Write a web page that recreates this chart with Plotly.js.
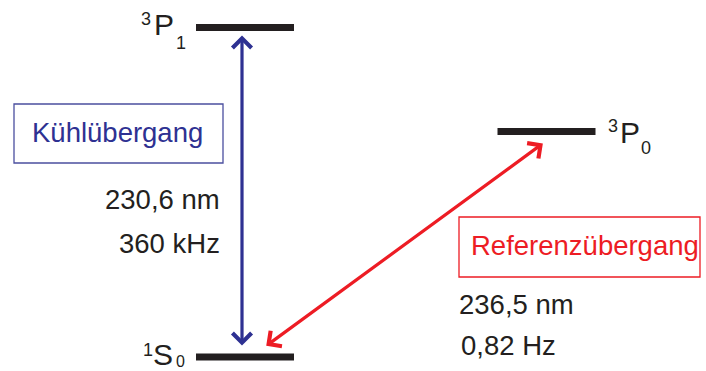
<!DOCTYPE html>
<html>
<head>
<meta charset="utf-8">
<script src="https://cdn.plot.ly/plotly-3.0.1.min.js"></script>
<style>html,body{margin:0;padding:0;background:#fff;}</style>
</head>
<body>
<div id="chart" style="width:706px;height:371px;"></div>
<script>
// ---- data ----
const levelSup = ['1', '3', '3'];
const levelTerm = ['S', 'P', 'P'];
const levelSub = ['0', '1', '0'];
const levelEnergy = [0, 1, 0.684];           // diagram energy (a.u.)
const transitionNames = ['Kühlübergang', 'Referenzübergang'];
const transitionWavelength = ['230,6 nm', '236,5 nm'];
const transitionLinewidth = ['360 kHz', '0,82 Hz'];
const transitionLower = [0, 0];
const transitionUpper = [1, 2];

// ---- layout helpers ----
const W = 706, H = 371;
const px = v => v / W;
const py = v => 1 - v / H;
const yRange = [-14 / 329.5, 357 / 329.5];
const levelCenterX = [245, 245, 546.5];
const levelHalfW = 49;
const BLACK = '#231f20', BLUE = '#2e3192', RED = '#ed1c24';
const FONT = 'Liberation Sans, Arial, sans-serif';

const traces = levelTerm.map((n, i) => ({
  type: 'scatter', mode: 'lines', hoverinfo: 'skip', showlegend: false,
  x: [levelCenterX[i] - levelHalfW, levelCenterX[i] + levelHalfW],
  y: [levelEnergy[i], levelEnergy[i]],
  line: {color: BLACK, width: 7}
}));

// label piece positions (pixel centres): sup, term, sub, sub font size
const labelPos = [
  {sup: [147.5, 350], term: [163, 354.5], sub: [180, 361.5], subSize: 16},
  {sup: [146, 18.5], term: [164, 24], sub: [181, 42.5], subSize: 18},
  {sup: [613, 125.5], term: [629.5, 132.5], sub: [645.5, 147.5], subSize: 18}
];
const annotations = [];
function txt(x, y, text, size, color, xa) {
  annotations.push({xref: 'paper', yref: 'paper', x: px(x), y: py(y),
    xanchor: xa || 'center', yanchor: 'middle', showarrow: false, text: text,
    font: {family: FONT, size: size, color: color}});
}
levelTerm.forEach((t, i) => {
  const p = labelPos[i];
  txt(p.sup[0], p.sup[1], levelSup[i], 18, BLACK);
  txt(p.term[0], p.term[1], t, 30, BLACK);
  txt(p.sub[0], p.sub[1], levelSub[i], p.subSize, BLACK);
});

// arrows
const arrowGeom = [
  {xUp: 242, xLo: 242, so: 8, sso: 10, color: BLUE},
  {xUp: 559, xLo: 251, so: 20, sso: 17, color: RED}
];
transitionNames.forEach((t, i) => {
  const g = arrowGeom[i];
  annotations.push({xref: 'x', yref: 'y', axref: 'x', ayref: 'y',
    x: g.xUp, y: levelEnergy[transitionUpper[i]],
    ax: g.xLo, ay: levelEnergy[transitionLower[i]],
    text: '', showarrow: true, arrowside: 'end+start',
    arrowhead: 4, startarrowhead: 4, arrowsize: 1.15, startarrowsize: 1.15,
    arrowwidth: 3.2, arrowcolor: g.color, standoff: g.so, startstandoff: g.sso});
});

// transition texts
const textGeom = [
  {name: [117.5, 132], wl: [222, 200, 'right'], lw: [222, 243, 'right'], color: BLUE},
  {name: [585, 245], wl: [457, 304, 'left'], lw: [459, 345, 'left'], color: RED}
];
transitionNames.forEach((t, i) => {
  const g = textGeom[i];
  txt(g.name[0], g.name[1], t, 27.5, g.color);
  txt(g.wl[0], g.wl[1], transitionWavelength[i], 27.5, BLACK, g.wl[2]);
  txt(g.lw[0], g.lw[1], transitionLinewidth[i], 27.5, BLACK, g.lw[2]);
});

const shapes = [
  {type: 'rect', xref: 'paper', yref: 'paper', x0: px(14), x1: px(223), y0: py(104), y1: py(163),
   line: {color: '#4b4f9f', width: 1.3}},
  {type: 'rect', xref: 'paper', yref: 'paper', x0: px(459), x1: px(700), y0: py(217), y1: py(277),
   line: {color: RED, width: 1.3}}
];

const layout = {
  width: W, height: H, margin: {l: 0, r: 0, t: 0, b: 0},
  paper_bgcolor: '#fff', plot_bgcolor: '#fff',
  xaxis: {range: [0, W], visible: false, fixedrange: true},
  yaxis: {range: yRange, visible: false, fixedrange: true},
  showlegend: false, annotations: annotations, shapes: shapes
};
Plotly.newPlot('chart', traces, layout, {displayModeBar: false, staticPlot: true});
</script>
</body>
</html>
